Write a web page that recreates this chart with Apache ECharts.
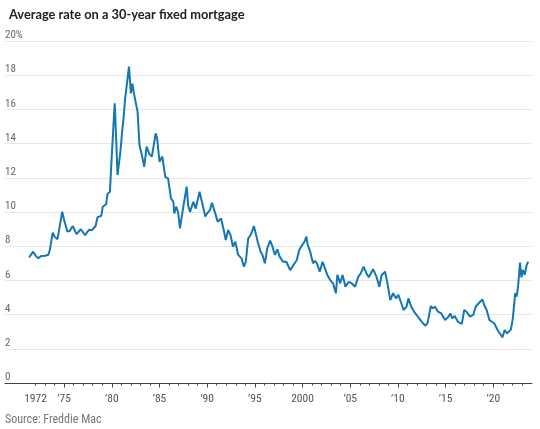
<!DOCTYPE html>
<html><head><meta charset="utf-8">
<script src="https://cdn.jsdelivr.net/npm/echarts@6/dist/echarts.min.js"></script>
<style>html,body{margin:0;padding:0;background:#fff}#c{width:540px;height:429px}</style>
</head><body><div id="c"></div>
<script>
// Decimal year of each observation
const years = [
  1971.33,1971.75,1972.0,1972.3,1972.6,1973.0,1973.35,1973.5,1973.8,1974.0,1974.3,1974.5,1974.8,
  1975.0,1975.35,1975.6,1975.9,1976.3,1976.75,1977.2,1977.6,1977.95,1978.3,1978.5,1978.9,
  1979.05,1979.4,1979.55,1979.8,1979.95,1980.15,1980.3,1980.35,1980.6,1980.9,1981.1,1981.2,1981.4,1981.55,
  1981.8,1982.0,1982.15,1982.35,1982.5,1982.7,1982.9,1983.15,1983.4,1983.65,1983.95,1984.2,1984.6,1984.75,
  1985.0,1985.3,1985.6,1985.9,1986.2,1986.45,1986.55,1986.75,1986.95,1987.15,1987.3,1987.5,1987.85,
  1988.0,1988.2,1988.55,1988.8,1989.2,1989.45,1989.8,1990.0,1990.3,1990.5,1990.85,1991.1,1991.45,
  1991.7,1991.95,1992.2,1992.45,1992.7,1992.95,1993.25,1993.6,1993.85,1994.05,1994.3,1994.55,1994.7,
  1994.9,1995.3,1995.6,1995.8,1996.05,1996.3,1996.6,1996.85,1997.1,1997.35,1997.6,1997.95,1998.3,
  1998.7,1999.05,1999.4,1999.65,1999.9,2000.2,2000.4,2000.55,2000.8,2001.1,2001.3,2001.5,2001.8,
  2002.1,2002.35,2002.6,2002.9,2003.2,2003.5,2003.65,2003.95,2004.2,2004.5,2004.85,2005.15,2005.5,
  2005.85,2006.1,2006.4,2006.7,2006.95,2007.15,2007.4,2007.75,2008.05,2008.3,2008.65,2008.9,2009.2,
  2009.5,2009.8,2010.05,2010.3,2010.6,2010.9,2011.1,2011.4,2011.8,2012.1,2012.5,2012.85,2013.1,
  2013.45,2013.65,2013.9,2014.2,2014.55,2014.95,2015.3,2015.5,2015.7,2015.95,2016.3,2016.7,2016.95,
  2017.2,2017.55,2017.9,2018.15,2018.4,2018.85,2019.05,2019.3,2019.6,2019.85,2020.1,2020.45,2020.8,
  2020.95,2021.2,2021.45,2021.85,2022.05,2022.3,2022.45,2022.6,2022.8,2022.95,2023.1,2023.3,2023.5,2023.67
];
// Average 30-year fixed rate, percent
const rates = [
  7.35,7.68,7.45,7.29,7.43,7.44,7.5,7.78,8.79,8.56,8.4,9.04,10.02,
  9.53,8.85,8.9,9.18,8.71,8.99,8.65,8.95,8.95,9.18,9.69,9.77,
  10.31,10.45,11.05,11.19,12.8,12.88,16.35,15.8,12.16,13.53,14.8,15.3,16.65,16.75,
  18.5,16.94,17.5,16.84,16.88,15.87,13.9,13.33,12.65,13.82,13.37,13.24,14.6,14.3,
  12.94,13.24,12.06,11.97,10.8,10.6,9.92,10.31,10.0,9.04,9.1,10.31,11.48,
  10.4,10.0,10.6,10.2,11.19,10.6,9.73,9.92,10.12,10.54,9.92,9.43,9.63,
  9.04,8.36,8.95,8.65,7.97,8.26,7.49,7.29,6.8,7.09,8.45,8.65,8.85,
  9.18,8.26,7.68,7.49,7.0,7.88,8.32,7.97,7.49,7.82,7.39,7.09,7.09,
  6.6,6.9,7.19,7.78,8.01,8.26,8.56,8.07,7.68,7.0,7.15,7.0,6.51,
  7.09,6.7,6.32,6.02,5.83,5.25,6.32,5.83,6.32,5.63,5.92,5.83,5.63,
  6.22,6.41,6.8,6.41,6.18,6.22,6.65,6.22,5.63,6.32,6.51,5.83,4.85,
  5.25,4.95,5.15,4.75,4.27,4.46,4.95,4.46,4.08,3.88,3.58,3.35,3.49,
  4.5,4.37,4.46,4.17,4.07,3.68,3.88,4.07,3.78,3.92,3.58,3.45,4.27,
  4.17,3.88,3.98,4.46,4.62,4.89,4.56,4.27,3.68,3.58,3.49,3.1,2.81,
  2.67,3.1,2.9,3.14,3.78,5.25,5.05,5.63,7.04,6.18,6.61,6.32,6.9,7.09
];
const yTicks = [0,2,4,6,8,10,12,14,16,18,20];
const xLabelYears = [1972,1975,1980,1985,1990,1995,2000,2005,2010,2015,2020];
const majorTickYears = [1975,1980,1985,1990,1995,2000,2005,2010,2015,2020];
const minorTickYears = [1972,1973,1974,1976,1977,1978,1979,1981,1982,1983,1984,1986,1987,1988,1989,
  1991,1992,1993,1994,1996,1997,1998,1999,2001,2002,2003,2004,2006,2007,2008,2009,
  2011,2012,2013,2014,2016,2017,2018,2019,2021,2022,2023];

const xMin = 1968.8, xMax = 2024.06;
const labelFont = "'Liberation Sans Narrow', 'Roboto Condensed', Roboto, sans-serif";

const chart = echarts.init(document.getElementById('c'), null, {renderer: 'canvas'});
chart.setOption({
  animation: false,
  backgroundColor: '#fff',
  title: {
    text: 'Average rate on a 30-year fixed mortgage',
    left: 4, top: 3,
    textStyle: {fontFamily: 'Lato, sans-serif', fontWeight: 'bold', fontSize: 12.8, color: '#222'}
  },
  graphic: [{
    type: 'text', left: 5, top: 414,
    style: {text: 'Source: Freddie Mac', fill: '#777', font: "12px " + labelFont}
  }],
  grid: {left: 5, right: 8, top: 41, bottom: 46, containLabel: false},
  xAxis: [{
    type: 'value', min: xMin, max: xMax,
    splitLine: {show: false},
    axisLine: {show: true, lineStyle: {color: '#444', width: 1}},
    axisTick: {show: true, customValues: minorTickYears, length: 2.5, lineStyle: {color: '#444'}},
    axisLabel: {
      customValues: xLabelYears, margin: 10, color: '#555', fontSize: 11.5, fontFamily: labelFont,
      formatter: v => (v === 1972 || v === 2000) ? String(v) : '\u2019' + String(v).slice(2)
    }
  }, {
    type: 'value', min: xMin, max: xMax, position: 'bottom',
    splitLine: {show: false},
    axisLine: {show: false},
    axisTick: {show: true, customValues: majorTickYears, length: 4.5, lineStyle: {color: '#444'}},
    axisLabel: {show: false}
  }],
  yAxis: {
    type: 'value', min: 0, max: 20, interval: 2,
    axisLine: {show: false}, axisTick: {show: false},
    splitLine: {lineStyle: {color: '#e6e6e6', width: 1}},
    axisLabel: {
      inside: true, margin: 0, align: 'left', verticalAlign: 'bottom', padding: [0, 0, 0, 0],
      color: '#666', fontSize: 11, fontFamily: labelFont,
      formatter: v => yTicks.includes(v) ? (v === 20 ? '20%' : String(v)) : ''
    }
  },
  series: [{
    type: 'line', xAxisIndex: 0,
    data: years.map((y, i) => [y, rates[i]]),
    showSymbol: false, symbol: 'none',
    lineStyle: {color: '#1477b3', width: 2},
    z: 3
  }]
});
</script></body></html>
